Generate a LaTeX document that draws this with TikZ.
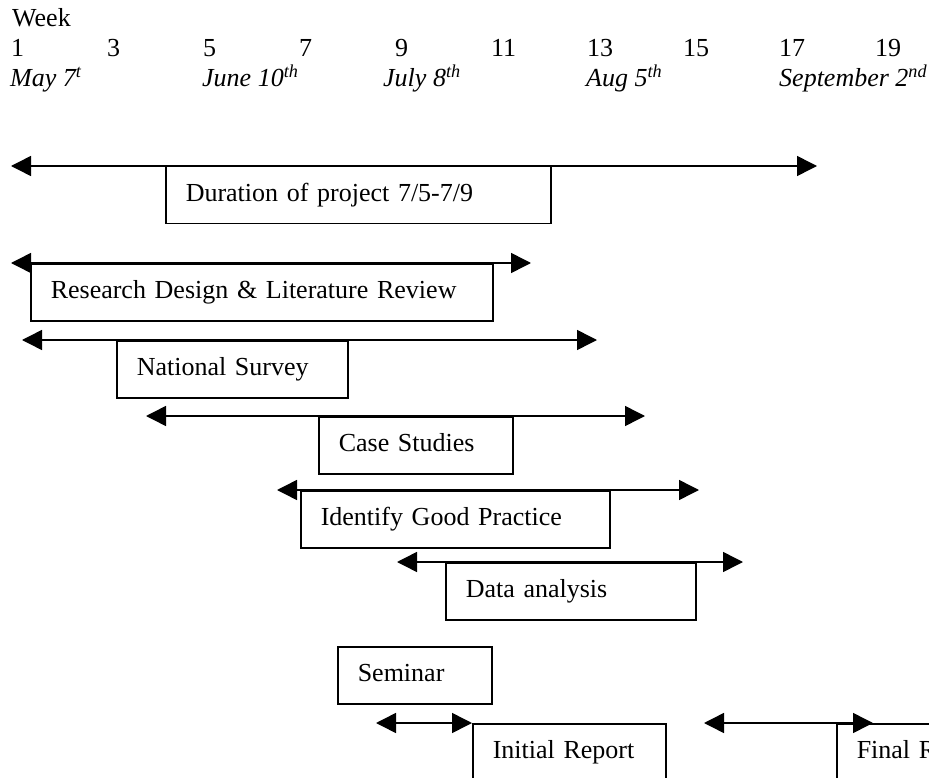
\documentclass[tikz,border=0pt]{standalone}
\usepackage{fontspec}
\setmainfont{Liberation Serif}
\usetikzlibrary{arrows.meta}
\tikzset{
  bar/.style={draw, line width=1.5pt, anchor=north west, inner xsep=20pt, inner ysep=0pt,
    minimum height=57pt, text height=18pt, text depth=6pt, align=left},
  span/.style={line width=1.5pt, {Triangle[length=20pt,width=20pt]}-{Triangle[length=20pt,width=20pt]}},
  lbl/.style={anchor=base west, inner sep=0pt},
  datelbl/.style={lbl, font=\fontsize{26pt}{30pt}\selectfont\itshape},
}
\begin{document}
\begin{tikzpicture}[x=1pt, y=-1pt, font=\fontsize{26pt}{30pt}\selectfont]
\useasboundingbox (0,0) rectangle (929,778);
\clip (0,0) rectangle (929,778);
% header
\node[lbl] (week) at (12,27) {Week};
\foreach \n [count=\i from 0] in {1,3,5,7,9,11,13,15,17,19}{
  \node[lbl] (w\n) at (11+96*\i,57) {\n};
}
\node[datelbl] (d1) at (10,87) {May 7\textsuperscript{t}};
\node[datelbl] (d2) at (202,87) {June 10\textsuperscript{th}};
\node[datelbl] (d3) at (383,87) {July 8\textsuperscript{th}};
\node[datelbl] (d4) at (586,87) {Aug 5\textsuperscript{th}};
\node[datelbl] (d5) at (779,87) {September 2\textsuperscript{nd}};
% bars
\node[bar, text width=345pt] (dur) at (165,166) {Duration of project 7/5-7/9};
\coordinate (durL) at (11,166); \coordinate (durR) at (817,166);
\draw[span] (durL) -- (durR);

\node[bar, text width=422pt] (res) at (30,263) {Research Design \& Literature Review};
\coordinate (resL) at (11,263); \coordinate (resR) at (531,263);
\draw[span] (resL) -- (resR);

\node[bar, text width=191pt] (nat) at (116,340) {National Survey};
\coordinate (natL) at (22,340); \coordinate (natR) at (597,340);
\draw[span] (natL) -- (natR);

\node[bar, text width=154pt] (cas) at (318,416) {Case Studies};
\coordinate (casL) at (146,416); \coordinate (casR) at (645,416);
\draw[span] (casL) -- (casR);

\node[bar, text width=269pt] (ide) at (300,490) {Identify Good Practice};
\coordinate (ideL) at (277,490); \coordinate (ideR) at (699,490);
\draw[span] (ideL) -- (ideR);

\node[bar, text width=210pt] (dat) at (445,562) {Data analysis};
\coordinate (datL) at (397,562); \coordinate (datR) at (743,562);
\draw[span] (datL) -- (datR);

\node[bar, text width=114pt] (sem) at (337,646) {Seminar};

\node[bar, text width=153pt, minimum height=90pt, text depth=39pt] (ini) at (472,723) {Initial Report};
\coordinate (iniL) at (376,723);
\draw[span] (iniL) -- (ini.north west);

\node[bar, text width=200pt, minimum height=90pt, text depth=39pt] (fin) at (836,723) {Final Report};
\coordinate (finL) at (704,723); \coordinate (finR) at (873,723);
\draw[span] (finL) -- (finR);
\end{tikzpicture}
\end{document}
